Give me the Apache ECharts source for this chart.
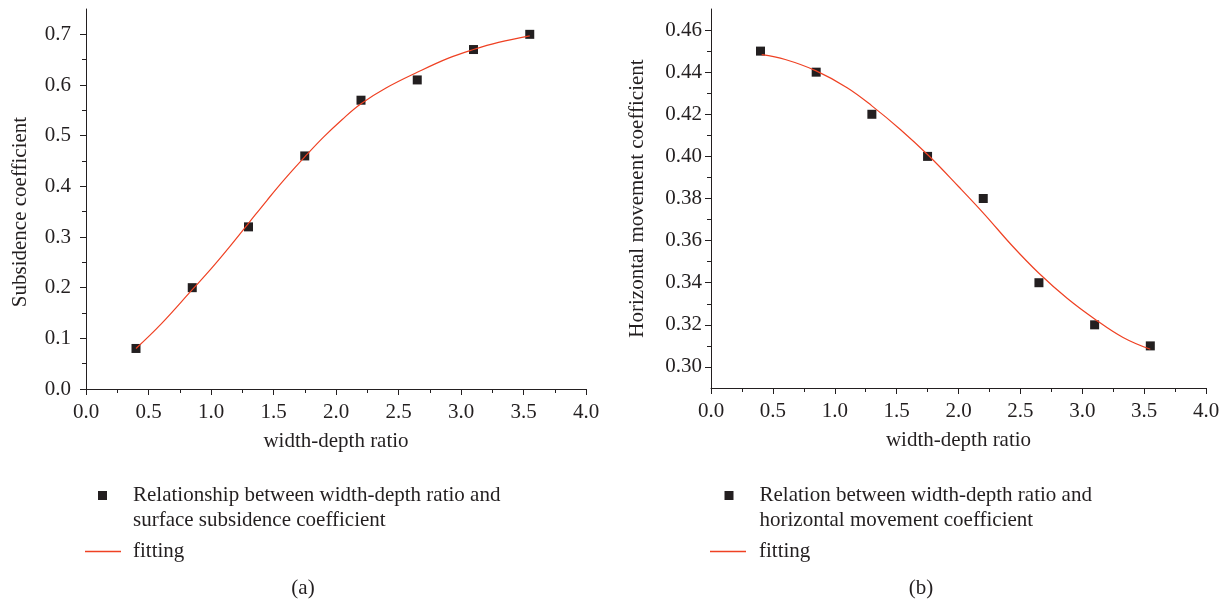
<!DOCTYPE html>
<html>
<head>
<meta charset="utf-8">
<script src="https://cdn.jsdelivr.net/npm/echarts@6/dist/echarts.min.js"></script>
<style>
    html, body { margin: 0; padding: 0; background: #fff; }
    #chart { width: 1225px; height: 603px; }
</style>
</head>
<body>
<div id="chart"></div>
<script>
    // (a) subsidence coefficient
    var ratioA = [0.4, 0.85, 1.3, 1.75, 2.2, 2.65, 3.1, 3.55];
    var subsidence = [0.08, 0.20, 0.32, 0.46, 0.57, 0.61, 0.67, 0.70];
    var fitXA = [0.4, 0.6, 0.85, 1.0, 1.15, 1.3, 1.45, 1.6, 1.75, 1.9, 2.05, 2.2, 2.4, 2.65, 2.9, 3.1, 3.3, 3.55];
    var fitYA = [0.080, 0.128, 0.196, 0.237, 0.281, 0.327, 0.373, 0.417, 0.458, 0.497, 0.532, 0.563, 0.594, 0.625, 0.653, 0.670, 0.684, 0.697];

    // (b) horizontal movement coefficient
    var ratioB = [0.4, 0.85, 1.3, 1.75, 2.2, 2.65, 3.1, 3.55];
    var horizontal = [0.45, 0.44, 0.42, 0.40, 0.38, 0.34, 0.32, 0.31];
    var fitXB = [0.41, 0.6, 0.85, 1.1, 1.3, 1.53, 1.76, 2.0, 2.21, 2.43, 2.65, 2.88, 3.1, 3.33, 3.55];
    var fitYB = [0.4483, 0.4460, 0.4406, 0.4326, 0.4240, 0.4128, 0.4003, 0.3857, 0.3725, 0.3578, 0.3445, 0.3325, 0.3228, 0.3140, 0.3084];

    // tick labels
    var yTicksA = [0, 0.1, 0.2, 0.3, 0.4, 0.5, 0.6, 0.7];
    var yMinorA = [0.05, 0.15, 0.25, 0.35, 0.45, 0.55, 0.65];
    var yTicksB = [0.30, 0.32, 0.34, 0.36, 0.38, 0.40, 0.42, 0.44, 0.46];
    var yMinorB = [0.31, 0.33, 0.35, 0.37, 0.39, 0.41, 0.43, 0.45];

    var nameA = 'Relationship between width-depth ratio and\nsurface subsidence coefficient';
    var nameB = 'Relation between width-depth ratio and\nhorizontal movement coefficient';

    var ink = '#231f20';
    var red = '#ef4123';
    var font = 'Liberation Serif';
    var fs = 21;

    function pairs(xs, ys) {
        return xs.map(function (x, i) { return [x, ys[i]]; });
    }

    function xAxis(grid) {
        return {
            type: 'value', gridIndex: grid, min: 0, max: 4, interval: 0.5,
            name: 'width-depth ratio', nameLocation: 'middle', nameGap: 42,
            nameTextStyle: { fontFamily: font, fontSize: fs, color: ink },
            axisLine: { lineStyle: { color: ink, width: 1 } },
            axisTick: { length: 6, lineStyle: { color: ink } },
            minorTick: { show: true, splitNumber: 2, length: 4, lineStyle: { color: ink } },
            splitLine: { show: false },
            axisLabel: { margin: 13, fontFamily: font, fontSize: fs, color: ink,
                formatter: function (v) { return v.toFixed(1); } }
        };
    }

    function yMajor(grid, min, max, ticks, digits, title, gap, margin, namePad) {
        return {
            type: 'value', gridIndex: grid, position: 'left', min: min, max: max,
            name: title, nameLocation: 'middle', nameGap: gap,
            nameTextStyle: { fontFamily: font, fontSize: fs, color: ink, padding: namePad },
            axisLine: { show: true, lineStyle: { color: ink, width: 1 } },
            axisTick: { show: true, length: 6, customValues: ticks, lineStyle: { color: ink } },
            splitLine: { show: false },
            axisLabel: { margin: margin, fontFamily: font, fontSize: fs, color: ink, customValues: ticks,
                formatter: function (v) { return v.toFixed(digits); } }
        };
    }

    function yMinor(grid, min, max, ticks) {
        return {
            type: 'value', gridIndex: grid, position: 'left', min: min, max: max,
            axisLine: { show: false },
            axisTick: { show: true, length: 4, customValues: ticks, lineStyle: { color: ink } },
            axisLabel: { show: false },
            splitLine: { show: false }
        };
    }

    // scatter legend: a blank first line keeps the square level with the first text line
    function legendDots(left, name) {
        return {
            left: left, top: 458, orient: 'vertical', padding: 0,
            itemWidth: 9, itemHeight: 9, selectedMode: false,
            data: [{ name: name, icon: 'rect', itemStyle: { color: ink, opacity: 1 } }],
            formatter: function (n) { return '\n' + n; },
            textStyle: { fontFamily: font, fontSize: fs, color: ink, lineHeight: 25, padding: [0, 0, 0, 21] }
        };
    }

    function legendLine(left, name, pad) {
        return {
            left: left, top: 539, orient: 'vertical', padding: 0,
            itemWidth: 36, itemHeight: 1.4, selectedMode: false,
            data: [{ name: name, icon: 'rect', itemStyle: { color: red } }],
            formatter: function () { return 'fitting'; },
            textStyle: { fontFamily: font, fontSize: fs, color: ink, lineHeight: 25, padding: [0, 0, 0, pad] }
        };
    }

    var chart = echarts.init(document.getElementById('chart'), null, { renderer: 'canvas' });

    var option = {
        backgroundColor: '#fff',
        animation: false,
        title: [
            { text: '(a)', left: 303, top: 578, textAlign: 'center', padding: 0,
                textStyle: { fontFamily: font, fontSize: fs, fontWeight: 'normal', color: ink } },
            { text: '(b)', left: 921, top: 578, textAlign: 'center', padding: 0,
                textStyle: { fontFamily: font, fontSize: fs, fontWeight: 'normal', color: ink } }
        ],
        grid: [
            { left: 86, top: 9, right: 639, bottom: 214 },
            { left: 711, top: 9, right: 19, bottom: 215 }
        ],
        xAxis: [xAxis(0), xAxis(1)],
        yAxis: [
            yMajor(0, 0, 0.75, yTicksA, 1, 'Subsidence coefficient', 55, 15, [0, 26, 0, 0]),
            yMinor(0, 0, 0.75, yMinorA),
            yMajor(1, 0.29, 0.47, yTicksB, 2, 'Horizontal movement coefficient', 63, 9, 0),
            yMinor(1, 0.29, 0.47, yMinorB)
        ],
        legend: [
            legendDots(98, nameA),
            legendLine(85, 'fitting', 7),
            legendDots(724.5, nameB),
            legendLine(710, 'fitting (b)', 8)
        ],
        series: [
            {
                name: nameA, type: 'scatter', xAxisIndex: 0, yAxisIndex: 0,
                symbol: 'rect', symbolSize: 9, itemStyle: { color: ink, opacity: 1 },
                data: pairs(ratioA, subsidence), z: 3
            },
            {
                name: 'fitting', type: 'line', xAxisIndex: 0, yAxisIndex: 0,
                smooth: 0.4, symbol: 'none', lineStyle: { color: red, width: 1.2 },
                itemStyle: { color: red },
                data: pairs(fitXA, fitYA), z: 4
            },
            {
                name: nameB, type: 'scatter', xAxisIndex: 1, yAxisIndex: 2,
                symbol: 'rect', symbolSize: 9, itemStyle: { color: ink, opacity: 1 },
                data: pairs(ratioB, horizontal), z: 3
            },
            {
                name: 'fitting (b)', type: 'line', xAxisIndex: 1, yAxisIndex: 2,
                smooth: 0.4, symbol: 'none', lineStyle: { color: red, width: 1.2 },
                itemStyle: { color: red },
                data: pairs(fitXB, fitYB), z: 4
            }
        ]
    };

    chart.setOption(option);
    window.addEventListener('resize', function () {
        chart.resize();
    });
</script>
</body>
</html>
